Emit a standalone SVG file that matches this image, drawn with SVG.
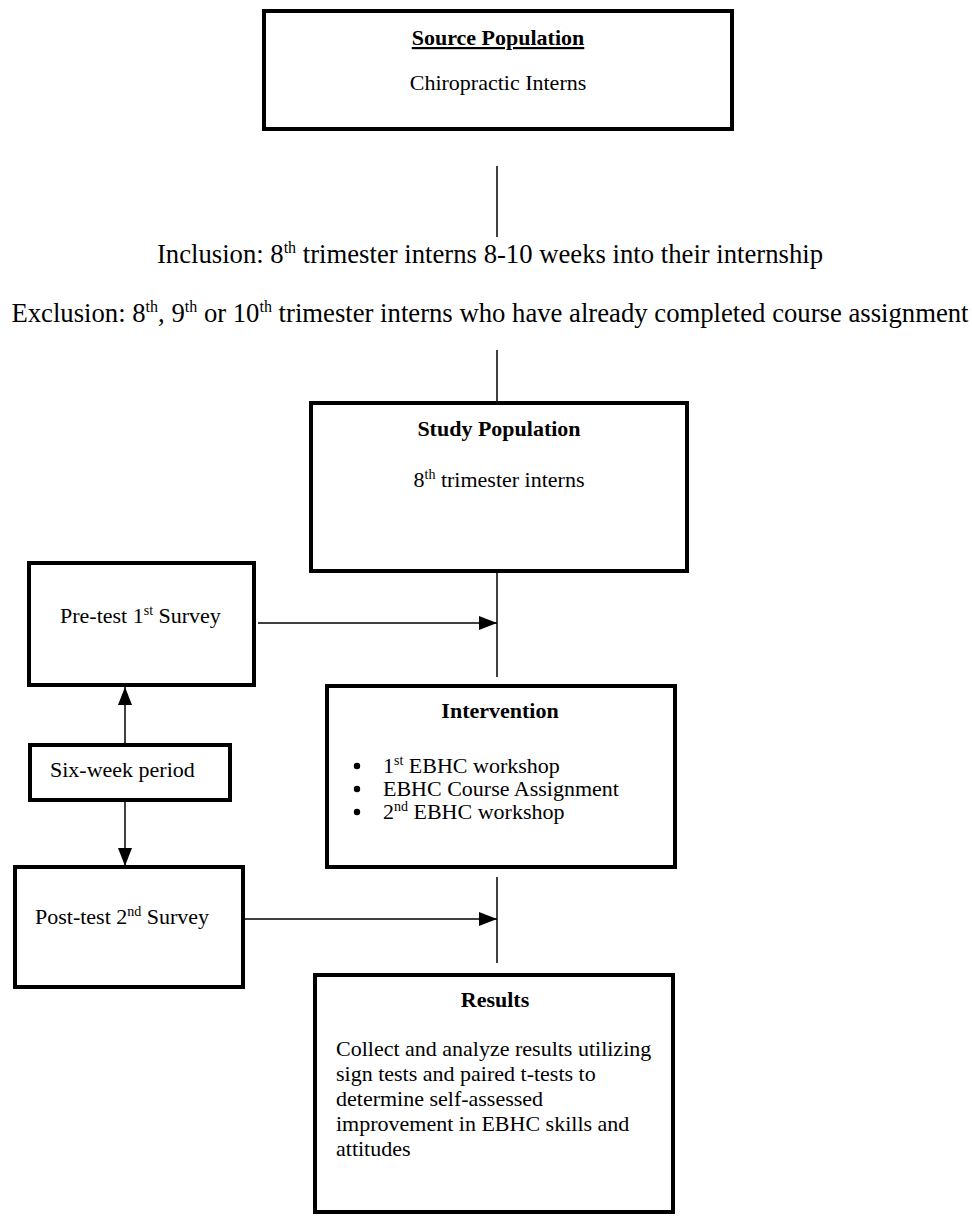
<svg xmlns="http://www.w3.org/2000/svg" width="972" height="1216" viewBox="0 0 972 1216">
<defs>
<marker id="arr" markerWidth="18" markerHeight="14" refX="18" refY="7" orient="auto" markerUnits="userSpaceOnUse"><path d="M0,0 L18,7 L0,14 z" fill="#000"/></marker>
<style>
.box{fill:#fff;stroke:#000;stroke-width:4}
.t{font-family:"Liberation Serif","Times New Roman",serif;font-size:22px;fill:#000}
.b{font-weight:bold}
.big{font-family:"Liberation Serif","Times New Roman",serif;font-size:26.7px;fill:#000}
.c{stroke:#000;stroke-width:1.5;fill:none}
.sup{font-size:14px}
.supb{font-size:16px}
</style>
</defs>
<rect width="972" height="1216" fill="#fff"/>
<g id="connectors">
<line class="c" x1="497" y1="166" x2="497" y2="237"/>
<line class="c" x1="497" y1="350" x2="497" y2="403"/>
<line class="c" x1="497" y1="571" x2="497" y2="677"/>
<line class="c" x1="258" y1="623" x2="497" y2="623" marker-end="url(#arr)"/>
<line class="c" x1="125" y1="745" x2="125" y2="687" marker-end="url(#arr)"/>
<line class="c" x1="125" y1="800" x2="125" y2="866" marker-end="url(#arr)"/>
<line class="c" x1="245" y1="919" x2="497" y2="919" marker-end="url(#arr)"/>
<line class="c" x1="497" y1="877" x2="497" y2="963"/>
</g>
<g id="source">
<rect class="box" x="264" y="11" width="468" height="118"/>
<text class="t b" x="498" y="45" text-anchor="middle" text-decoration="underline">Source Population</text>
<text class="t" x="498" y="90" text-anchor="middle">Chiropractic Interns</text>
</g>
<g id="criteria">
<text class="big" x="490" y="263" text-anchor="middle">Inclusion: 8<tspan class="supb" dy="-10">th</tspan><tspan dy="10"> trimester interns 8-10 weeks into their internship</tspan></text>
<text class="big" x="490" y="322" text-anchor="middle">Exclusion: 8<tspan class="supb" dy="-10">th</tspan><tspan dy="10">, 9</tspan><tspan class="supb" dy="-10">th</tspan><tspan dy="10"> or 10</tspan><tspan class="supb" dy="-10">th</tspan><tspan dy="10"> trimester interns who have already completed course assignment</tspan></text>
</g>
<g id="study">
<rect class="box" x="311" y="403" width="376" height="168"/>
<text class="t b" x="499" y="436" text-anchor="middle">Study Population</text>
<text class="t" x="499" y="487" text-anchor="middle">8<tspan class="sup" dy="-8">th</tspan><tspan dy="8"> trimester interns</tspan></text>
</g>
<g id="pretest">
<rect class="box" x="29" y="563" width="225" height="122"/>
<text class="t" x="60" y="623">Pre-test 1<tspan class="sup" dy="-8">st</tspan><tspan dy="8"> Survey</tspan></text>
</g>
<g id="intervention">
<rect class="box" x="327" y="686" width="348" height="181"/>
<text class="t b" x="500" y="718" text-anchor="middle">Intervention</text>
<circle cx="357" cy="766" r="3.2"/>
<circle cx="357" cy="789" r="3.2"/>
<circle cx="357" cy="812" r="3.2"/>
<text class="t" x="383" y="773">1<tspan class="sup" dy="-8">st</tspan><tspan dy="8"> EBHC workshop</tspan></text>
<text class="t" x="383" y="796">EBHC Course Assignment</text>
<text class="t" x="383" y="819">2<tspan class="sup" dy="-8">nd</tspan><tspan dy="8"> EBHC workshop</tspan></text>
</g>
<g id="sixweek">
<rect class="box" x="30" y="745" width="200" height="55"/>
<text class="t" x="50" y="777">Six-week period</text>
</g>
<g id="posttest">
<rect class="box" x="15" y="867" width="228" height="120"/>
<text class="t" x="35" y="924">Post-test 2<tspan class="sup" dy="-8">nd</tspan><tspan dy="8"> Survey</tspan></text>
</g>
<g id="results">
<rect class="box" x="315" y="975" width="358" height="237"/>
<text class="t b" x="495" y="1007" text-anchor="middle">Results</text>
<text class="t" x="336" y="1056">Collect and analyze results utilizing</text>
<text class="t" x="336" y="1081">sign tests and paired t-tests to</text>
<text class="t" x="336" y="1106">determine self-assessed</text>
<text class="t" x="336" y="1131">improvement in EBHC skills and</text>
<text class="t" x="336" y="1156">attitudes</text>
</g>
</svg>
